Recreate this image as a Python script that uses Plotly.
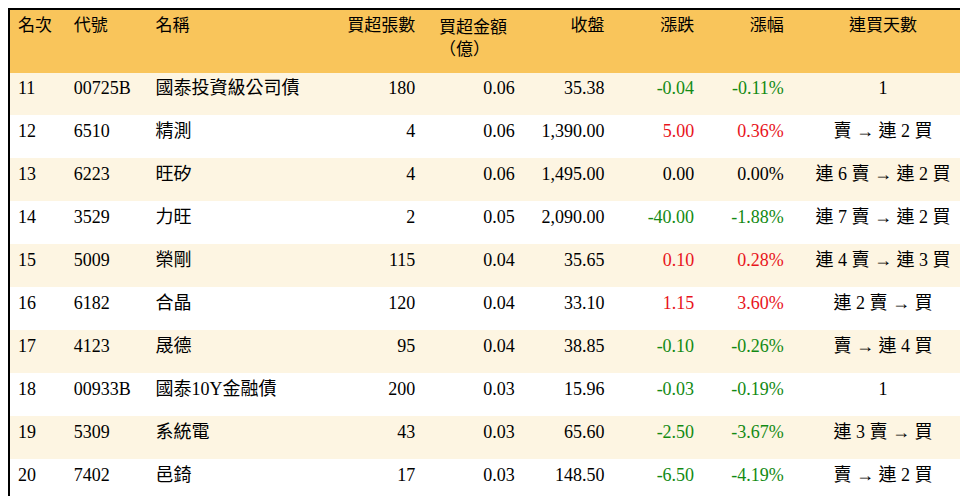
import plotly.graph_objects as go

headers = ["名次", "代號", "名稱", "買超張數", "買超金額<br>（億）", "收盤", "漲跌", "漲幅", "連買天數"]
rank = ["11", "12", "13", "14", "15", "16", "17", "18", "19", "20"]
code = ["00725B", "6510", "6223", "3529", "5009", "6182", "4123", "00933B", "5309", "7402"]
name = ["國泰投資級公司債", "精測", "旺矽", "力旺", "榮剛", "合晶", "晟德", "國泰10Y金融債", "系統電", "邑錡"]
net_lots = [180, 4, 4, 2, 115, 120, 95, 200, 43, 17]
net_amt = [0.06, 0.06, 0.06, 0.05, 0.04, 0.04, 0.04, 0.03, 0.03, 0.03]
close = [35.38, 1390.00, 1495.00, 2090.00, 35.65, 33.10, 38.85, 15.96, 65.60, 148.50]
change = [-0.04, 5.00, 0.00, -40.00, 0.10, 1.15, -0.10, -0.03, -2.50, -6.50]
pct = [-0.11, 0.36, 0.00, -1.88, 0.28, 3.60, -0.26, -0.19, -3.67, -4.19]
streak = ["1", "賣 → 連 2 買", "連 6 賣 → 連 2 買", "連 7 賣 → 連 2 買", "連 4 賣 → 連 3 買",
          "連 2 賣 → 買", "賣 → 連 4 買", "1", "連 3 賣 → 買", "賣 → 連 2 買"]

def col(v):
    return "#138a13" if v < 0 else ("#e8141b" if v > 0 else "#000000")

chg_colors = [col(v) for v in change]
n = len(rank)
black = ["#000000"] * n
fills = ["#fdf5e2" if i % 2 == 0 else "#ffffff" for i in range(n)]

values = [rank, code, name, [str(v) for v in net_lots], [f"{v:.2f}" for v in net_amt],
          [f"{v:,.2f}" for v in close], [f"{v:.2f}" for v in change], [f"{v:.2f}%" for v in pct], streak]
fcolors = [black] * 6 + [chg_colors, chg_colors, black]
aligns = ["left", "left", "left", "right", "right", "right", "right", "right", "center"]
halign = ["left", "left", "left", "right", "center", "right", "right", "right", "center"]
widths = [56, 82, 177, 100, 100, 90, 90, 90, 183]

fnt = "Liberation Serif, Noto Sans CJK TC"
fig = go.Figure(go.Table(
    columnwidth=widths,
    header=dict(values=headers, fill_color="#f9c55b", line_color="#f9c55b",
                align=halign, height=62, font=dict(family=fnt, size=17, color="#000")),
    cells=dict(values=values, fill_color=[fills] * 9, line_color=[fills] * 9,
               align=aligns, height=43, font=dict(family=fnt, size=18, color=fcolors)),
    domain=dict(x=[0, 1], y=[0, 1]),
))
fig.update_layout(width=968, height=496, margin=dict(l=2, r=2, t=2, b=2, pad=0),
                  paper_bgcolor="#000000")
fig.write_html("out.html")
